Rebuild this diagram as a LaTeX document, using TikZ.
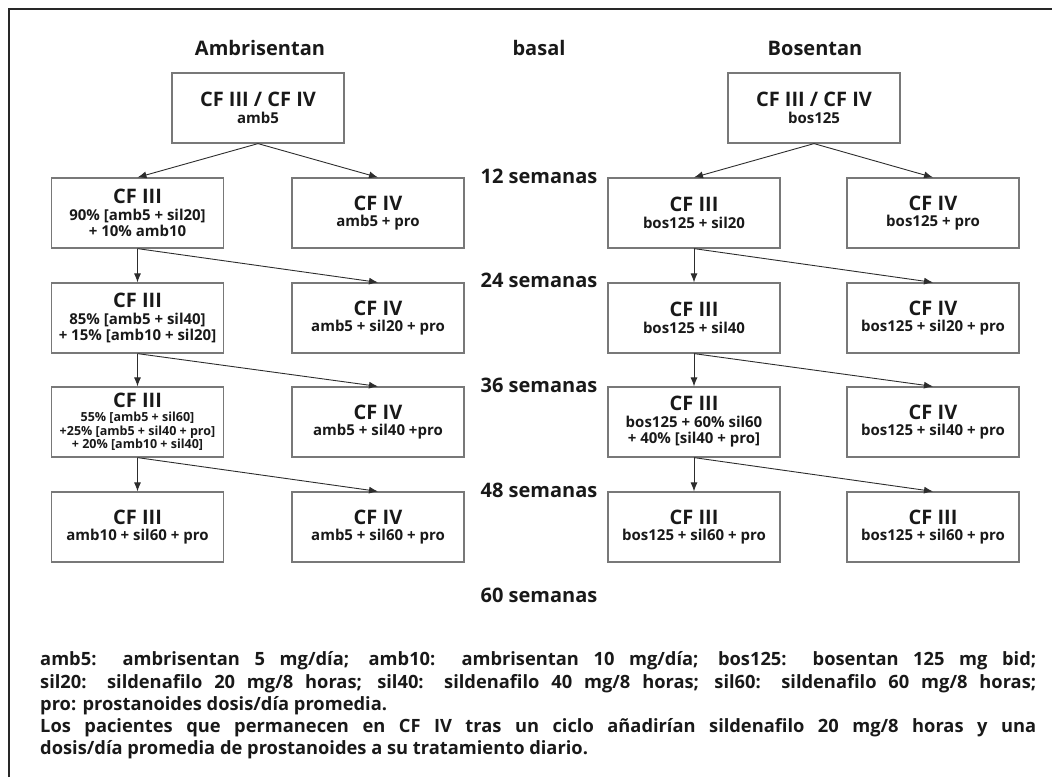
\documentclass[tikz,border=0pt]{standalone}
\usepackage{fontspec}
\setmainfont{Open Sans}
\usetikzlibrary{arrows.meta}
\definecolor{boxgray}{RGB}{120,120,120}
\definecolor{arrgray}{RGB}{45,45,45}
\definecolor{txt}{RGB}{25,25,25}
\definecolor{framegray}{RGB}{40,40,40}
\newcommand{\cfbig}[1]{{\fontsize{20}{17}\selectfont #1}}
\begin{document}
\begin{tikzpicture}[x=1pt,y=-1pt,
  box/.style={draw=boxgray, line width=1.2pt, minimum width=172pt, minimum height=70pt,
    inner sep=0pt, align=center, font=\bfseries\fontsize{15}{16.5}\selectfont, text=txt},
  smallbox/.style={box, font=\bfseries\fontsize{12.5}{13.6}\selectfont},
  arr/.style={draw=arrgray, line width=0.9pt, -{Latex[length=9pt,width=7pt]}},
  lab/.style={font=\bfseries\fontsize{20}{22}\selectfont, text=txt, inner sep=0pt}]
\useasboundingbox (0,0) rectangle (1052,777);
\draw[framegray, line width=2.4pt] (9,777) -- (9,9) -- (1052,9);

% headers
\node[lab] (hA) at (260,48) {Ambrisentan};
\node[lab] (hB) at (539,48) {basal};
\node[lab] (hC) at (815,48) {Bosentan};
\node[lab] (w12) at (539,176) {12 semanas};
\node[lab] (w24) at (539,280) {24 semanas};
\node[lab] (w36) at (539,385) {36 semanas};
\node[lab] (w48) at (539,490) {48 semanas};
\node[lab] (w60) at (539,595) {60 semanas};

% Ambrisentan
\node[box] (a0) at (258,108) {\cfbig{CF III / CF IV}\\amb5};
\node[box] (a1) at (137.5,213) {\cfbig{CF III}\\90\% [amb5 + sil20]\\+ 10\% amb10};
\node[box] (a1r) at (378,213) {\cfbig{CF IV}\\amb5 + pro};
\node[box] (a2) at (137.5,318) {\cfbig{CF III}\\85\% [amb5 + sil40]\\+ 15\% [amb10 + sil20]};
\node[box] (a2r) at (378,318) {\cfbig{CF IV}\\amb5 + sil20 + pro};
\node[smallbox] (a3) at (137.5,422) {\cfbig{CF III}\\55\% [amb5 + sil60]\\+25\% [amb5 + sil40 + pro]\\+ 20\% [amb10 + sil40]};
\node[box] (a3r) at (378,422) {\cfbig{CF IV}\\amb5 + sil40 +pro};
\node[box] (a4) at (137.5,527) {\cfbig{CF III}\\amb10 + sil60 + pro};
\node[box] (a4r) at (378,527) {\cfbig{CF IV}\\amb5 + sil60 + pro};

% Bosentan
\node[box] (b0) at (814,108) {\cfbig{CF III / CF IV}\\bos125};
\node[box] (b1) at (694,213) {\cfbig{CF III}\\bos125 + sil20};
\node[box] (b1r) at (933,213) {\cfbig{CF IV}\\bos125 + pro};
\node[box] (b2) at (694,318) {\cfbig{CF III}\\bos125 + sil40};
\node[box] (b2r) at (933,318) {\cfbig{CF IV}\\bos125 + sil20 + pro};
\node[box] (b3) at (694,422) {\cfbig{CF III}\\bos125 + 60\% sil60\\+ 40\% [sil40 + pro]};
\node[box] (b3r) at (933,422) {\cfbig{CF IV}\\bos125 + sil40 + pro};
\node[box] (b4) at (694,527) {\cfbig{CF III}\\bos125 + sil60 + pro};
\node[box] (b4r) at (933,527) {\cfbig{CF III}\\bos125 + sil60 + pro};

% arrows
\foreach \s/\t in {a0/a1,a0/a1r,a1/a2,a1/a2r,a2/a3,a2/a3r,a3/a4,a3/a4r,
                   b0/b1,b0/b1r,b1/b2,b1/b2r,b2/b3,b2/b3r,b3/b4,b3/b4r}
  \draw[arr] (\s.south) -- (\t.north);

% note
\node[anchor=north west, inner sep=0pt, text width=996pt, align=justify, text=txt,
      font=\bfseries\fontsize{18.3}{22.3}\selectfont] (note) at (40,651.5)
{amb5: ambrisentan 5 mg/día; amb10: ambrisentan 10 mg/día; bos125: bosentan 125 mg bid;\linebreak
sil20: sildenafilo 20 mg/8 horas; sil40: sildenafilo 40 mg/8 horas; sil60: sildenafilo 60 mg/8 horas;\linebreak
pro: prostanoides dosis/día promedia.\\
Los pacientes que permanecen en CF IV tras un ciclo añadirían sildenafilo 20 mg/8 horas y una\linebreak
dosis/día promedia de prostanoides a su tratamiento diario.};
\end{tikzpicture}
\end{document}
